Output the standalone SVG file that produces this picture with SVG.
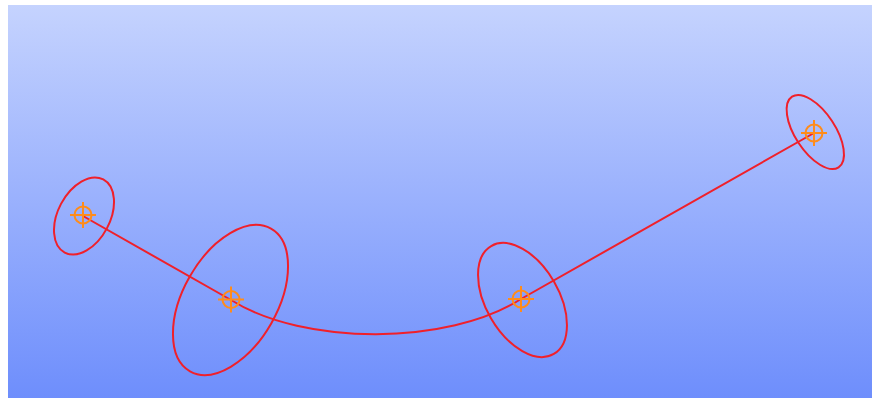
<svg xmlns="http://www.w3.org/2000/svg" width="874" height="398" viewBox="0 0 874 398">
  <defs>
    <linearGradient id="bg" x1="0" y1="0" x2="0" y2="1">
      <stop offset="0" stop-color="#c5d3fe"/>
      <stop offset="1" stop-color="#6e8efc"/>
    </linearGradient>
    <g id="marker">
      <circle cx="0" cy="0" r="8.5" fill="none" stroke="#ff8c1a" stroke-width="2"/>
      <line x1="-13" y1="0" x2="13" y2="0" stroke="#ff8c1a" stroke-width="2"/>
      <line x1="0" y1="-13" x2="0" y2="13" stroke="#ff8c1a" stroke-width="2"/>
    </g>
  </defs>
  <style>
    .ell { fill: none; stroke: #f0202a; stroke-width: 2; }
    .curve { fill: none; stroke: #f0202a; stroke-width: 2; }
  </style>
  <rect x="8" y="5" width="864" height="393" fill="url(#bg)"/>
  <g id="connectors">
    <path class="curve" d="M83,216 L231,300 C304,345.7 448,345.7 521,299 L814,133"/>
  </g>
  <g id="node1">
    <ellipse class="ell" cx="84" cy="216" rx="26" ry="41.3" transform="rotate(27.8 84 216)"/>
    <use href="#marker" x="83" y="215"/>
  </g>
  <g id="node2">
    <ellipse class="ell" cx="230.5" cy="300" rx="47" ry="82" transform="rotate(29.6 230.5 300)"/>
    <use href="#marker" x="231" y="299.5"/>
  </g>
  <g id="node3">
    <ellipse class="ell" cx="522.5" cy="300" rx="36.5" ry="62.4" transform="rotate(-30.1 522.5 300)"/>
    <use href="#marker" x="521" y="299"/>
  </g>
  <g id="node4">
    <ellipse class="ell" cx="815.3" cy="132" rx="20" ry="42.3" transform="rotate(-33.4 815.3 132)"/>
    <use href="#marker" x="814" y="133"/>
  </g>
</svg>
